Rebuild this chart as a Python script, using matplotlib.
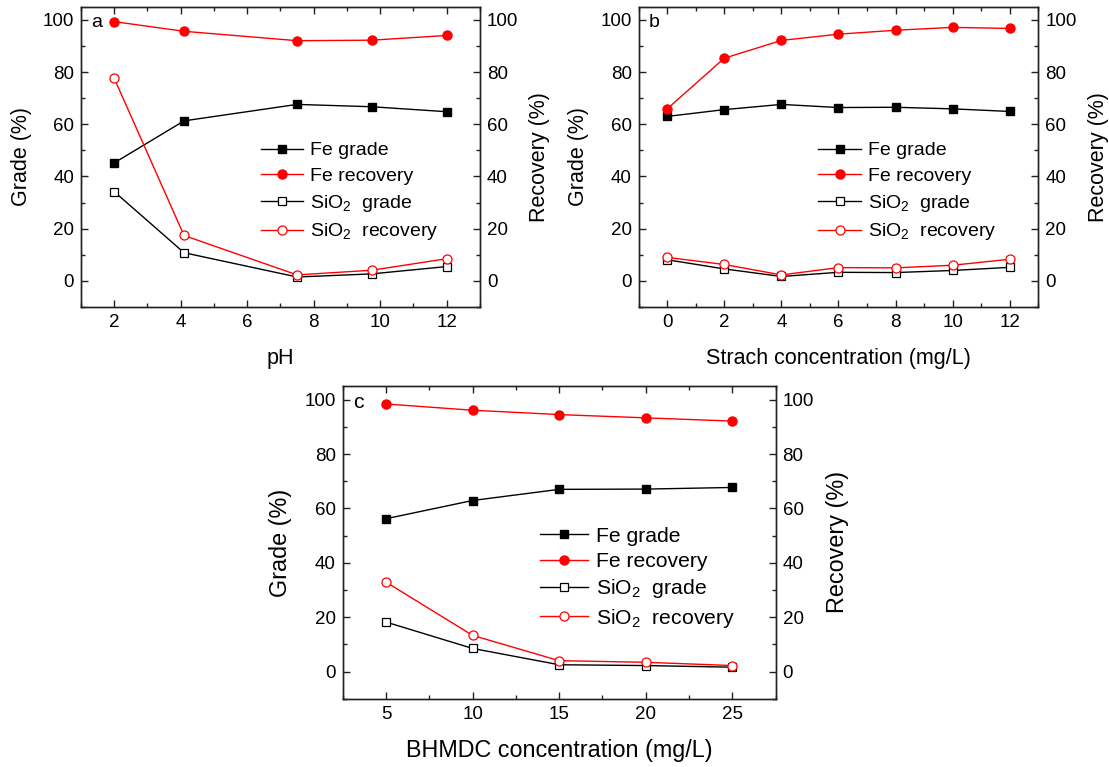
import matplotlib
matplotlib.use("Agg")
import matplotlib.pyplot as plt
from matplotlib.ticker import MultipleLocator

plt.rcParams['font.family'] = ['Liberation Sans', 'DejaVu Sans']
plt.rcParams['mathtext.fontset'] = 'custom'
plt.rcParams['mathtext.rm'] = 'Liberation Sans'
plt.rcParams['mathtext.it'] = 'Liberation Sans:italic'

# panel a: pH
ph = [2, 4.1, 7.5, 9.75, 12]
a_fe_grade = [45.2, 61.3, 67.6, 66.7, 64.8]
a_fe_rec = [99.3, 95.6, 92.0, 92.2, 94.0]
a_si_grade = [34.2, 10.8, 1.5, 2.7, 5.5]
a_si_rec = [77.6, 17.4, 2.3, 4.1, 8.5]

# panel b: starch concentration
starch = [0, 2, 4, 6, 8, 10, 12]
b_fe_grade = [63.0, 65.6, 67.6, 66.4, 66.5, 65.9, 64.9]
b_fe_rec = [65.9, 85.3, 92.1, 94.5, 96.0, 97.1, 96.7]
b_si_grade = [8.1, 4.6, 1.7, 3.3, 3.2, 4.0, 5.2]
b_si_rec = [9.0, 6.3, 2.3, 5.1, 5.0, 6.0, 8.3]

# panel c: BHMDC concentration
bhmdc = [5, 10, 15, 20, 25]
c_fe_grade = [56.2, 62.9, 67.0, 67.1, 67.7]
c_fe_rec = [98.4, 96.1, 94.5, 93.3, 92.1]
c_si_grade = [18.2, 8.5, 2.5, 2.2, 1.6]
c_si_rec = [32.9, 13.3, 4.0, 3.4, 2.2]

SPINE = '#222222'
TICK_FS = 13.5


def style_axis(ax):
    for s in ax.spines.values():
        s.set_linewidth(1.0)
        s.set_color(SPINE)
    ax.tick_params(which='both', direction='in', color=SPINE, width=1.0,
                   labelsize=TICK_FS, pad=5)
    ax.tick_params(which='major', length=5)
    ax.tick_params(which='minor', length=3)


def draw_panel(fig, rect, x, fe_grade, fe_rec, si_grade, si_rec,
               xlim, xstep, xlabel, letter, label_fs=15.5, leg_fs=14,
               leg_anchor=(0.45, 0.55), handlelen=2.2, ylabelpad=8,
               spacing=0.4):
    ax = fig.add_axes(rect)
    ax2 = ax.twinx()

    h1, = ax.plot(x, fe_grade, '-', color='black', lw=1.0, marker='s', ms=5.5,
                  mfc='black', mec='black', label='Fe grade')
    h3, = ax.plot(x, si_grade, '-', color='black', lw=1.0, marker='s', ms=5.5,
                  mfc='white', mec='black', mew=0.9, label='SiO$_2$  grade')
    h2, = ax2.plot(x, fe_rec, '-', color='red', lw=1.0, marker='o', ms=6.5,
                   mfc='red', mec='red', label='Fe recovery')
    h4, = ax2.plot(x, si_rec, '-', color='red', lw=1.0, marker='o', ms=6.5,
                   mfc='white', mec='red', mew=0.9, label='SiO$_2$  recovery')

    for a in (ax, ax2):
        a.set_ylim(-10, 105)
        a.yaxis.set_major_locator(MultipleLocator(20))
        a.yaxis.set_minor_locator(MultipleLocator(10))
        style_axis(a)
    ax.set_xlim(*xlim)
    ax.xaxis.set_major_locator(MultipleLocator(xstep))
    ax.xaxis.set_minor_locator(MultipleLocator(xstep / 2))
    ax.tick_params(axis='x', which='both', top=True, bottom=True)
    ax.tick_params(axis='y', which='both', left=True, right=False)
    ax.set_yticks(range(0, 101, 20))
    ax2.set_yticks(range(0, 101, 20))

    ax.set_xlabel(xlabel, fontsize=label_fs, labelpad=12)
    ax.set_ylabel('Grade (%)', fontsize=label_fs, labelpad=ylabelpad)
    ax2.set_ylabel('Recovery (%)', fontsize=label_fs, labelpad=ylabelpad)

    ax.text(0.025, 0.946, letter, transform=ax.transAxes, fontsize=leg_fs,
            ha='left', va='center')

    ax2.legend(handles=[h1, h2, h3, h4], loc='upper left',
               bbox_to_anchor=leg_anchor, frameon=False, fontsize=leg_fs,
               handlelength=handlelen, handletextpad=0.35, labelspacing=spacing,
               borderpad=0, borderaxespad=0)
    return ax, ax2


fig = plt.figure(figsize=(11.09, 7.67), dpi=100)

draw_panel(fig, [0.0730, 0.5997, 0.3598, 0.3915], ph,
           a_fe_grade, a_fe_rec, a_si_grade, a_si_rec,
           (1, 13), 2, 'pH', 'a')
draw_panel(fig, [0.5759, 0.5997, 0.3603, 0.3915], starch,
           b_fe_grade, b_fe_rec, b_si_grade, b_si_rec,
           (-1, 13), 2, 'Strach concentration (mg/L)', 'b')
draw_panel(fig, [0.3090, 0.0890, 0.3904, 0.4077], bhmdc,
           c_fe_grade, c_fe_rec, c_si_grade, c_si_rec,
           (2.5, 27.5), 5, 'BHMDC concentration (mg/L)', 'c',
           label_fs=16.8, leg_fs=15.2, leg_anchor=(0.455, 0.55),
           handlelen=2.3, ylabelpad=9, spacing=0.3)

fig.savefig('out.png', dpi=100)
